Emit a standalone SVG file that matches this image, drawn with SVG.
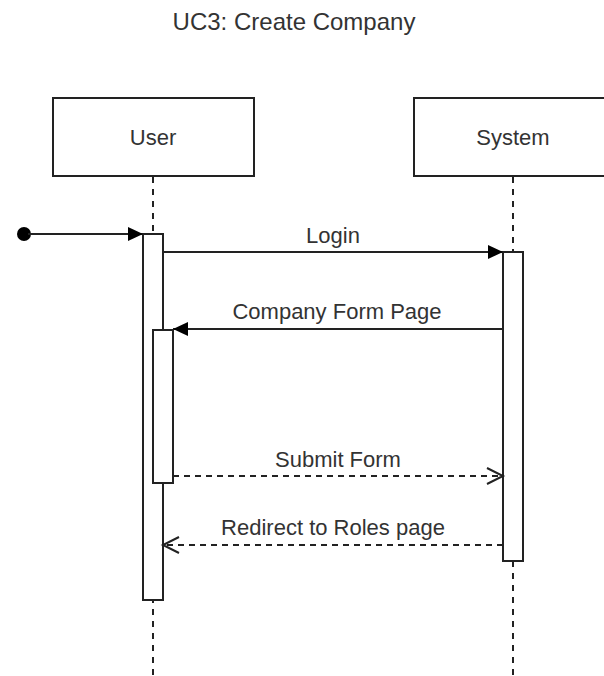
<svg xmlns="http://www.w3.org/2000/svg" width="604" height="676" viewBox="0 0 604 676">
  <style>
    .lbl { font-family: "Liberation Sans", Arial, sans-serif; font-size: 22px; fill: #333; text-anchor: middle; }
    .title { font-size: 24px; }
    .box { fill: #fff; stroke: #222; stroke-width: 2; }
    .life { stroke: #222; stroke-width: 2; stroke-dasharray: 6 6; fill: none; }
    .msg { stroke: #222; stroke-width: 2; fill: none; }
    .ret { stroke: #222; stroke-width: 2; fill: none; stroke-dasharray: 6 5; }
  </style>
  <defs>
    <marker id="filled" markerUnits="userSpaceOnUse" markerWidth="16" markerHeight="14" refX="15" refY="7" orient="auto">
      <path d="M0,0 L15,7 L0,14 Z" fill="#000"/>
    </marker>
    <marker id="open" markerUnits="userSpaceOnUse" markerWidth="20" markerHeight="18" refX="17" refY="9" orient="auto">
      <path d="M1,1 L17,9 L1,17" fill="none" stroke="#222" stroke-width="2"/>
    </marker>
  </defs>
  <rect width="604" height="676" fill="#fff"/>

  <text class="lbl title" x="294" y="30">UC3: Create Company</text>

  <g id="user">
    <line class="life" x1="153" y1="177" x2="153" y2="676"/>
    <rect class="box" x="53" y="98" width="201" height="78"/>
    <text class="lbl" x="153" y="145">User</text>
    <rect class="box" x="143" y="234" width="20" height="366"/>
    <rect class="box" x="153" y="330" width="20" height="153"/>
  </g>

  <g id="system">
    <line class="life" x1="513" y1="177" x2="513" y2="676"/>
    <rect class="box" x="414" y="98" width="200" height="78"/>
    <text class="lbl" x="513" y="145">System</text>
    <rect class="box" x="503" y="252" width="20" height="309"/>
  </g>

  <g id="start">
    <circle cx="24" cy="234" r="7" fill="#000"/>
  </g>

  <g id="connectors">
    <line class="msg" x1="28" y1="234" x2="143" y2="234" marker-end="url(#filled)"/>
    <line class="msg" x1="163" y1="252" x2="503" y2="252" marker-end="url(#filled)"/>
    <text class="lbl" x="333" y="243">Login</text>
    <line class="msg" x1="503" y1="329" x2="173" y2="329" marker-end="url(#filled)"/>
    <text class="lbl" x="337" y="319">Company Form Page</text>
    <line class="ret" x1="173" y1="476" x2="503" y2="476" marker-end="url(#open)"/>
    <text class="lbl" x="338" y="467">Submit Form</text>
    <line class="ret" x1="503" y1="545" x2="163" y2="545" marker-end="url(#open)"/>
    <text class="lbl" x="333" y="535">Redirect to Roles page</text>
  </g>
</svg>
